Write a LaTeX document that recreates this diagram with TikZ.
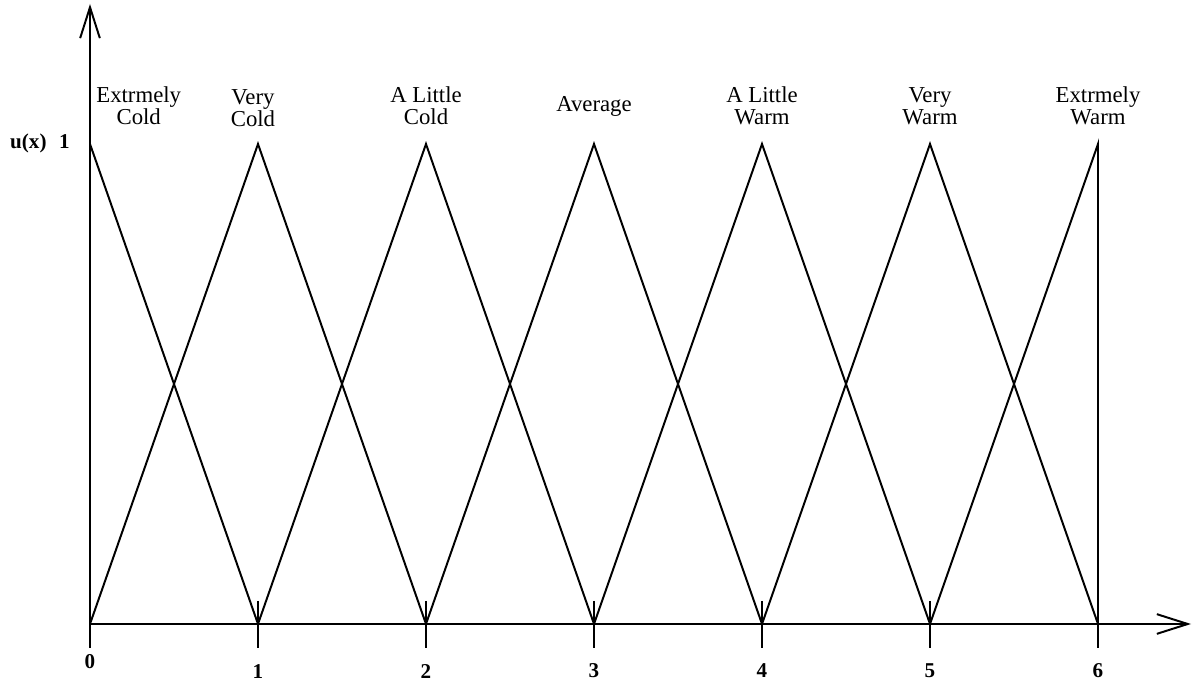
\documentclass[tikz,border=0pt]{standalone}
\usepackage{fontspec}
\setmainfont{Liberation Serif}
\usetikzlibrary{arrows.meta}
\tikzset{
        % lines of the membership functions
        member/.style={line width=1.4pt, line join=miter},
        % axes with open heads
        axisline/.style={line width=1.4pt, -{Straight Barb[length=22pt, width=14pt, line width=1.4pt]}},
        % names of the fuzzy sets
        setlabel/.style={align=center, inner sep=0pt, font=\fontsize{16.2}{15.8}\selectfont},
        % numbers on the axes
        ticklabel/.style={inner sep=0pt, font=\fontsize{15}{16}\selectfont\bfseries}
}
\begin{document}
\begin{tikzpicture}[x=4.2cm, y=12cm]
    \useasboundingbox (-0.5357,-0.1271) rectangle (6.5595,1.3);
    % base and peak points
    \foreach \k in {0,...,6} {
        \coordinate (b\k) at (\k,0);
        \coordinate (p\k) at (\k,1);
    }
    \coordinate (xend) at (6.5536,0);
    \coordinate (yend) at (0,1.2917);
    % axes
    \draw[axisline] (b0) -- (xend);
    \draw[axisline] (b0) -- (yend);
    % ticks
    \draw[member] (b0) -- ++(0,-0.05);
    \foreach \k in {1,...,6}
        \draw[member] (b\k) ++(0,0.048) -- ++(0,-0.098);
    % triangles
    \draw[member] (p0) -- (b1);
    \foreach \l/\k/\r in {0/1/2, 1/2/3, 2/3/4, 3/4/5, 4/5/6}
        \draw[member] (b\l) -- (p\k) -- (b\r);
    \draw[member] (b5) -- (p6) -- (b6);
    % numbers
    \node[ticklabel] (t0) at (0,-0.079) {0};
    \foreach \k in {1,...,6}
        \node[ticklabel] (t\k) at (\k,-0.098) {\k};
    \node[ticklabel, anchor=east] (ulabel) at (-0.119,1.002) {u(x)\hspace{0.6em}1};
    % set names
    \node[setlabel] (excold) at (0.29,1.079) {Extrmely\\Cold};
    \node[setlabel] (vcold) at (0.97,1.075) {Very\\Cold};
    \node[setlabel] (lcold) at (2,1.079) {A Little\\Cold};
    \node[setlabel] (avg) at (3,1.078) {Average};
    \node[setlabel] (lwarm) at (4,1.079) {A Little\\Warm};
    \node[setlabel] (vwarm) at (5,1.079) {Very\\Warm};
    \node[setlabel] (exwarm) at (6,1.079) {Extrmely\\Warm};
\end{tikzpicture}
\end{document}
